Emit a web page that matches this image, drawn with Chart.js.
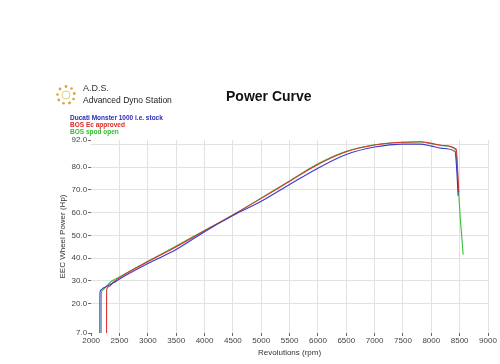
<!DOCTYPE html>
<html>
<head>
<meta charset="utf-8">
<script src="https://cdn.jsdelivr.net/npm/chart.js@4"></script>
<style>
  html, body { margin: 0; padding: 0; background: #fff; }
  #wrap { position: relative; width: 500px; height: 364px; font-family: "Liberation Sans", Arial, sans-serif; }
  #chart { position: absolute; left: 0; top: 0; }
  .txt { position: absolute; white-space: nowrap; line-height: 1; }
  #logo { position: absolute; left: 55px; top: 84px; }
</style>
</head>
<body>
<div id="wrap">
  <canvas id="chart" width="500" height="364"></canvas>
  <svg id="logo" width="22" height="22" viewBox="0 0 22 22">
    <g fill="#d9a441">
      <circle cx="11" cy="2.5" r="1.4"/><circle cx="16.5" cy="4.5" r="1.3"/>
      <circle cx="19.3" cy="9.5" r="1.4"/><circle cx="18.5" cy="15" r="1.3"/>
      <circle cx="14.5" cy="19" r="1.4"/><circle cx="8.5" cy="19.3" r="1.3"/>
      <circle cx="3.8" cy="16" r="1.4"/><circle cx="2.5" cy="10.5" r="1.3"/>
      <circle cx="5" cy="5" r="1.4"/>
    </g>
    <circle cx="11" cy="11" r="4" fill="none" stroke="#e6c98a" stroke-width="1"/>
  </svg>
  <div class="txt" style="left:83px;top:84px;font-size:9px;color:#333;">A.D.S.</div>
  <div class="txt" style="left:83px;top:96px;font-size:8.5px;color:#222;">Advanced Dyno Station</div>
  <div class="txt" style="left:226px;top:89px;font-size:14px;font-weight:bold;color:#111;">Power Curve</div>
  <div class="txt" style="left:70px;top:115px;font-size:6.5px;font-weight:bold;color:#2b2bb8;">Ducati Monster 1000 i.e. stock</div>
  <div class="txt" style="left:70px;top:122px;font-size:6.5px;font-weight:bold;color:#e02626;">BOS Ec approved</div>
  <div class="txt" style="left:70px;top:129px;font-size:6.5px;font-weight:bold;color:#2fc02f;">BOS spod open</div>
</div>
<script>
// Series values (rpm, hp)
const stockRpm = [2153, 2154, 2157, 2185, 2215, 2400, 2500, 3000, 3500, 4000, 4500, 5000, 5500, 6000, 6500, 7000, 7500, 7800, 8000, 8200, 8420, 8440, 8455, 8465, 8472];
const stockHp  = [7.0, 20.0, 25.1, 26.2, 26.8, 29.2, 30.8, 37.6, 43.8, 51.6, 58.7, 65.0, 72.4, 79.6, 85.6, 88.9, 90.2, 90.2, 89.3, 88.3, 86.9, 82.0, 76.0, 71.0, 67.5];

const ecRpm = [2271, 2272, 2274, 2312, 2400, 2500, 3000, 3500, 4000, 4500, 5000, 5500, 6000, 6500, 7000, 7500, 7800, 8000, 8200, 8440, 8458, 8472, 8485];
const ecHp  = [7.0, 20.0, 26.2, 27.4, 29.6, 31.4, 38.4, 45.0, 52.0, 59.0, 66.3, 73.8, 81.2, 86.8, 89.8, 91.0, 91.2, 90.5, 89.6, 88.0, 82.0, 75.0, 69.0];

const spodRpm = [2177, 2178, 2180, 2200, 2240, 2370, 2500, 3000, 3500, 4000, 4500, 5000, 5500, 6000, 6500, 7000, 7500, 7800, 8000, 8200, 8430, 8455, 8480, 8510, 8535, 8562];
const spodHp  = [7.0, 20.0, 24.5, 25.8, 26.8, 30.0, 31.7, 38.6, 45.3, 52.2, 59.0, 66.5, 74.0, 81.5, 87.0, 89.9, 91.0, 91.1, 90.4, 89.5, 87.8, 80.0, 70.0, 58.0, 50.0, 41.5];

// Axis ticks
const rpmTicks = [2000, 2500, 3000, 3500, 4000, 4500, 5000, 5500, 6000, 6500, 7000, 7500, 8000, 8500, 9000];
const hpTicks = [7, 20, 30, 40, 50, 60, 70, 80, 90, 92];
const hpLabelled = [7, 20, 30, 40, 50, 60, 70, 80, 92];

const toPoints = (xs, ys) => xs.map((x, i) => ({ x: x, y: ys[i] }));

const tickFont = { family: "'Liberation Sans', Arial, sans-serif", size: 8 };

new Chart(document.getElementById('chart'), {
  type: 'line',
  data: {
    datasets: [
      { label: 'Ducati Monster 1000 i.e. stock', data: toPoints(stockRpm, stockHp), borderColor: '#3a3ad0' },
      { label: 'BOS Ec approved', data: toPoints(ecRpm, ecHp), borderColor: '#e03030' },
      { label: 'BOS spod open', data: toPoints(spodRpm, spodHp), borderColor: '#33c033' }
    ].map(d => Object.assign(d, { borderWidth: 1.1, pointRadius: 0, fill: false, cubicInterpolationMode: 'monotone' }))
  },
  options: {
    responsive: false,
    animation: false,
    devicePixelRatio: 1,
    layout: { padding: { top: 140, right: 12, left: 58, bottom: 6 } },
    plugins: { legend: { display: false }, tooltip: { enabled: false } },
    scales: {
      x: {
        type: 'linear',
        min: 2000, max: 9000,
        afterBuildTicks: s => { s.ticks = rpmTicks.map(v => ({ value: v })); },
        afterFit: s => { s.height = 25; },
        border: { display: false },
        grid: {
          color: c => c.tick && c.tick.value === 2000 ? 'rgba(0,0,0,0)' : '#e2e2e2',
          tickColor: '#666', tickLength: 3
        },
        ticks: { color: '#444', font: tickFont, padding: 0, maxRotation: 0, autoSkip: false, callback: v => String(v) },
        title: { display: true, text: 'Revolutions (rpm)', color: '#333', font: tickFont, padding: 0 }
      },
      y: {
        min: 7, max: 92,
        afterBuildTicks: s => { s.ticks = hpTicks.map(v => ({ value: v })); },
        border: { display: false },
        grid: {
          color: c => (c.tick && (c.tick.value === 7 || c.tick.value === 92)) ? 'rgba(0,0,0,0)' : '#e2e2e2',
          tickColor: c => (c.tick && hpLabelled.includes(c.tick.value)) ? '#666' : 'rgba(0,0,0,0)',
          tickLength: 3
        },
        ticks: {
          color: '#444', font: tickFont, padding: 1, autoSkip: false,
          callback: v => hpLabelled.includes(v) ? v.toFixed(1) : ''
        },
        title: { display: true, text: 'EEC Wheel Power (Hp)', color: '#333', font: tickFont, padding: { top: 0, bottom: 3 } }
      }
    }
  }
});
</script>
</body>
</html>
